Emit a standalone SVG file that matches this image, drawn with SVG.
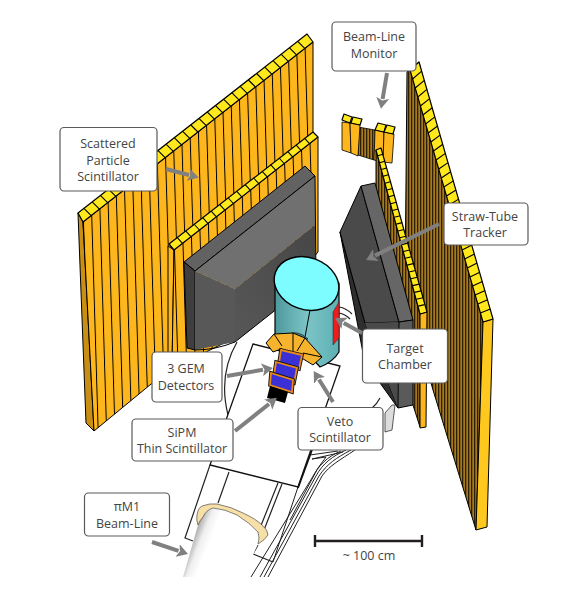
<svg xmlns="http://www.w3.org/2000/svg" width="572" height="608" viewBox="0 0 572 608">
<style>
.lab{fill:#fff;stroke:#5a5a5a;stroke-width:1.2}
text{font-family:"Open Sans","Noto Sans","Liberation Sans",sans-serif;font-size:12.500px;fill:#444;text-anchor:middle}
.ln{fill:none;stroke:#000;stroke-width:1}
.tile{fill:#ffe81c;stroke:#000;stroke-width:1.2;stroke-linejoin:round}
.face{fill:#fdb71c;stroke:#000;stroke-width:.8}
.div{fill:none;stroke:#000;stroke-width:1.1}
.gemo{fill:none;stroke:#111;stroke-width:3.6;stroke-linejoin:miter}
.gem{fill:#3b2fd6;stroke:#e8891a;stroke-width:1.8}
.flr{fill:none;stroke:#222;stroke-width:1.2}
.arr{fill:none;stroke:#808080;stroke-width:4;marker-end:url(#ah)}
</style>
<defs>
<marker id="ah" markerUnits="userSpaceOnUse" markerWidth="16" markerHeight="16" refX="1" refY="8" orient="auto" viewBox="0 0 16 16"><path d="M0,1.5L11,8L0,14.5L2.5,8Z" fill="#808080"/></marker>
<pattern id="st1" patternUnits="userSpaceOnUse" width="8.400" height="10" patternTransform="translate(76.340 0) skewX(1.720)"><rect width="8.400" height="10" fill="#fdb71c"/><rect width="1" height="10" fill="#000"/></pattern>
<pattern id="st2" patternUnits="userSpaceOnUse" width="8.670" height="10" patternTransform="translate(166.500 0) skewX(1.720)"><rect width="8.670" height="10" fill="#fdb71c"/><rect width="1" height="10" fill="#000"/></pattern>
<pattern id="st3" patternUnits="userSpaceOnUse" width="3" height="10"><rect width="3" height="10" fill="#a67a1c"/><rect width="1.300" height="10" fill="#2d1f08"/></pattern>
<linearGradient id="cyl" x1="0" x2="1" y1="0" y2="0"><stop offset="0" stop-color="#4e989c"/><stop offset=".5" stop-color="#7cc4c6"/><stop offset="1" stop-color="#5cb0b4"/></linearGradient>
<linearGradient id="pipe" gradientUnits="userSpaceOnUse" x1="186" y1="545" x2="214" y2="556"><stop offset="0" stop-color="#8c8c8c"/><stop offset=".4" stop-color="#efefef"/><stop offset=".7" stop-color="#fff"/></linearGradient>
<linearGradient id="boxd" gradientUnits="userSpaceOnUse" x1="235" y1="320" x2="315" y2="250"><stop offset="0" stop-color="#565656"/><stop offset="1" stop-color="#484848"/></linearGradient>
</defs>
<rect width="572" height="608" fill="#fff"/>

<g id="scattered-particle-scintillator">
<polygon points="78,213 83,222 94,431 86,423" fill="#c98f14" stroke="#000"/>
<polygon points="83,222 313,42 313,140 190,352 94,431" fill="url(#st1)" stroke="#000"/>
<polygon class="tile" points="78,213 307,34 313,42 83,222"/>
<path class="div" d="M91.2,215.6l-7,-7M99.4,209.1l-7,-7M107.6,202.7l-7,-7M115.8,196.3l-7,-7M124.1,189.9l-7,-7M132.3,183.4l-7,-7M140.5,177l-7,-7M148.7,170.6l-7,-7M156.9,164.1l-7,-7M165.1,157.7l-7,-7M173.3,151.3l-7,-7M181.5,144.8l-7,-7M189.7,138.4l-7,-7M197.9,132l-7,-7M206.2,125.6l-7,-7M214.4,119.1l-7,-7M222.6,112.7l-7,-7M230.8,106.3l-7,-7M239,99.8l-7,-7M247.2,93.4l-7,-7M255.4,87l-7,-7M263.6,80.5l-7,-7M271.8,74.1l-7,-7M280,67.7l-7,-7M288.3,61.3l-7,-7M296.5,54.8l-7,-7M304.7,48.4l-7,-7"/>
<polygon points="168,246 174,250 172,368 168,368" fill="#fdb71c" stroke="#000"/>
<polygon points="174,250 318,137 318,252 250,330 190,360 172,368" fill="url(#st2)" stroke="#000"/>
<polygon class="tile" points="169,244 313,132 318,137 174,250"/>
<path class="div" d="M182.5,243.4l-5,-5.5M190.9,236.7l-5,-5.5M199.4,230l-5,-5.5M207.9,223.4l-5,-5.5M216.4,216.8l-5,-5.5M224.8,210.1l-5,-5.5M233.3,203.5l-5,-5.5M241.8,196.8l-5,-5.5M250.2,190.2l-5,-5.5M258.7,183.5l-5,-5.5M267.2,176.9l-5,-5.5M275.6,170.2l-5,-5.5M284.1,163.5l-5,-5.5M292.6,156.9l-5,-5.5M301,150.3l-5,-5.5M309.5,143.6l-5,-5.5"/>
</g>

<g id="far-right-panel">
<polygon points="407,72 419,62 483,322 476,530 433,390 405,290" fill="url(#st3)" stroke="#000"/>
<polygon points="483,322 493,319 487,527 476,530" fill="#ffc81e" stroke="#000"/>
<polygon class="tile" points="410,70 419,62 493,319 483,322"/>
<path class="div" d="M412.6,79l9,-7.9M415.2,88l9.1,-7.7M417.8,97l9.1,-7.6M420.4,106l9.2,-7.4M423,115l9.2,-7.3M425.6,124l9.3,-7.1M428.2,133l9.3,-7M430.9,142l9.2,-6.9M433.5,151l9.3,-6.7M436.1,160l9.3,-6.6M438.7,169l9.4,-6.4M441.3,178l9.4,-6.3M443.9,187l9.5,-6.1M446.5,196l9.5,-6M449.1,205l9.5,-5.9M451.7,214l9.6,-5.7M454.3,223l9.6,-5.6M456.9,232l9.7,-5.4M459.5,241l9.7,-5.3M462.1,250l9.8,-5.1M464.7,259l9.8,-5M467.3,268l9.8,-4.9M470,277l9.8,-4.7M472.6,286l9.8,-4.6M475.2,295l9.9,-4.4M477.8,304l9.9,-4.3M480.4,313l10,-4.1"/>
</g>

<g id="beam-line-monitor-detector">
<polygon points="358,127 375,130 374,160 358,155" fill="url(#st3)" stroke="#000" stroke-width=".8"/>
<polygon class="face" points="342,122 350,123 351,153 342,150"/>
<polygon class="face" points="350,123 360,125 358,156 351,153"/>
<polygon class="face" points="375,130 384,132 383,162 374,160"/>
<polygon class="face" points="384,132 394,134 392,163 383,162"/>
<polygon class="tile" points="344,114 352,117 350,123 342,120"/>
<polygon class="tile" points="353,117 362,119 360,125 351,123"/>
<polygon class="tile" points="378,123 386,125 384,132 375,130"/>
<polygon class="tile" points="387,125 395,127 393,134 384,132"/>
</g>

<g id="middle-right-panel">
<polygon points="376,150 420,314 420,427 413,405 376,300" fill="url(#st3)" stroke="#000"/>
<polygon points="420,314 427,312 426,427 420,428" fill="#fdb71c" stroke="#000"/>
<polygon class="tile" points="376,150 381,148 427,312 420,314"/>
<path class="div" d="M377.8,155.8l5,-1.5M379.7,162.7l5,-1.5M381.5,169.5l5,-1.5M383.3,176.3l5,-1.5M385.2,183.2l5,-1.5M387,190l5.500,-1.500M388.8,196.8l5.500,-1.500M390.7,203.7l5.500,-1.500M392.500,210.500l5.500,-1.500M394.3,217.3l6,-1.5M396.2,224.1l6,-1.5M398,231l6,-1.5M399.8,237.8l6,-1.5M401.7,244.6l6,-1.5M403.5,251.5l6,-1.5M405.3,258.3l6,-1.5M407.2,265.1l6,-1.5M409,272l6.500,-1.500M410.8,278.8l6.500,-1.500M412.7,285.6l6.500,-1.500M414.5,292.4l6.500,-1.500M416.3,299.3l6.500,-1.500M418.2,306.1l6.500,-1.500"/>
</g>

<g id="floor">
<path class="flr" d="M237,342Q218,375 228,415M380,398Q377,404 372,408M339,307Q346,308 352,314M339,313Q345,314 350,319"/>
<polygon points="253,344 340,366 298,487 210,465" fill="#fff" stroke="#111" stroke-width="1.300"/>
<path class="flr" d="M210,465L185,538L193,541M229,472L218,503M282,484L262,535M278,483L258,533M258,545L253,554L273,562"/>
<path fill="none" stroke="#222" stroke-width="1" d="M355,450C340,460 330,465 322,476L268,577M351,450C336,458 327,464 319,476L264,577M346,450C333,456 323,463 316,476L260,577M341,451C328,456 318,466 312,478L251,577M298,487L273,562M310,455L338,451M312,459L343,452M326,457L318,468L290,520M312,459L326,457"/>
<path fill="none" stroke="#111" stroke-width="1.700" d="M312,450L298,488"/>
<polygon points="392,405 385,413 385,432 392,430 395,405" fill="#dcdcdc" stroke="#333" stroke-width=".8"/>
</g>

<g id="left-box">
<polygon points="184,262 305,166 315,176 195,271" fill="#626262" stroke="#000"/>
<polygon points="184,262 195,271 195,350 187,348" fill="#3e3e3e" stroke="#000"/>
<polygon points="195,271 235,289 235,342 195,350" fill="#585858"/>
<polygon points="195,271 315,176 315,225 235,289" fill="#707070"/>
<polygon points="235,289 315,225 316,278 235,342" fill="url(#boxd)"/>
<path class="ln" d="M195,271L315,176L316,278L235,342Q215,350 195,350"/>
</g>

<g id="straw-tube-tracker">
<polygon points="340,232 365,323 398,408 380,383 363,353" fill="#2e2e2e" stroke="#000"/>
<polygon points="361,186 399,322 365,323 340,232" fill="#4a4a4a" stroke="#000"/>
<polygon points="361,186 375,183 413,320 399,322" fill="#666" stroke="#000"/>
<polygon points="365,323 399,322 398,408" fill="#4a4a4a"/>
<polygon points="399,322 413,320 413,405 398,408" fill="#5a5a5a" stroke="#000"/>
</g>

<g id="target-chamber">
<path d="M275,283V338L300,345L320,367Q333,362 339,352V283Z" fill="url(#cyl)" stroke="#000" stroke-width="1.200"/>
<polygon points="333,312 339,302 339,338 333,345" fill="#ee1c1c" stroke="#333" stroke-width=".6"/>
<path class="ln" d="M310,310L305,337"/>
<ellipse cx="306.500" cy="283.500" rx="33" ry="26" transform="rotate(20 306.500 283.500)" fill="#7dfdff" stroke="#000" stroke-width="1.400"/>
</g>

<g id="gem-detectors">
<path d="M289,334Q298,330 308,339L300,340Z" fill="#4e989c" stroke="#222" stroke-width=".8"/>
<polygon points="266,343 274,334 293,333 305,338 322,357 313,365 300,357 281,349 273,352" fill="#f5b32e" stroke="#000" stroke-width="1"/>
<path class="ln" d="M274,334L282,346M293,333V351M305,338L297,351M322,357L303,353"/>
<polygon class="gemo" points="281,350 302,355 299,369 279,363"/><polygon class="gem" points="281,350 302,355 299,369 279,363"/>
<polygon class="gemo" points="276,362 297,368 294,383 274,375"/><polygon class="gem" points="276,362 297,368 294,383 274,375"/>
<polygon class="gemo" points="271,373 293,380 292,392 270,385"/><polygon class="gem" points="271,373 293,380 292,392 270,385"/>
<polygon points="270,386 288,392 285,403 267,398" fill="#000"/>
</g>

<g id="pim1-pipe">
<path d="M198,525Q203,512 213,508Q237,515 258,532Q260,538 258,544L243,577H183Z" fill="url(#pipe)"/>
<path d="M197,515Q198,508 202,506Q210,503 217,504Q232,507 243,513Q256,519 262,525Q268,530 268,535Q265,540 258,544Q260,538 258,532Q250,523 237,515Q225,509 213,508Q206,510 203,517Q200,520 198,525Q196,520 197,515Z" fill="#f7dfa8" stroke="#333" stroke-width=".6"/>
</g>

<g id="connectors">
<path class="arr" d="M166,169L189,175"/>
<path class="arr" d="M387,73L382.600,99"/>
<path class="arr" d="M439,224L375,255.600"/>
<path class="arr" d="M362,333L343.700,322.900"/>
<path class="arr" d="M227,376L263,369.700"/>
<path class="arr" d="M235,431L269,404"/>
<path class="arr" d="M333,402L319,379.500"/>
<path class="arr" d="M152,542L178.500,550.800"/>
</g>

<g id="label-scattered"><rect class="lab" x="60" y="127.500" width="97" height="63.500" rx="4"/><text x="108" y="148">Scattered</text><text x="108" y="165">Particle</text><text x="108" y="181">Scintillator</text></g>
<g id="label-monitor"><rect class="lab" x="332" y="22" width="84" height="49" rx="4"/><text x="374" y="41">Beam-Line</text><text x="374" y="58">Monitor</text></g>
<g id="label-straw"><rect class="lab" x="444" y="203" width="84" height="42" rx="4"/><text x="485" y="221">Straw-Tube</text><text x="485" y="237">Tracker</text></g>
<g id="label-target"><rect class="lab" x="362.500" y="329" width="85" height="54" rx="4"/><text x="405" y="353">Target</text><text x="405" y="369">Chamber</text></g>
<g id="label-gem"><rect class="lab" x="152" y="352" width="70" height="50" rx="4"/><text x="186" y="373">3 GEM</text><text x="186" y="390">Detectors</text></g>
<g id="label-sipm"><rect class="lab" x="132" y="419" width="101" height="42" rx="4"/><text x="182" y="437">SiPM</text><text x="182" y="453">Thin Scintillator</text></g>
<g id="label-veto"><rect class="lab" x="298" y="407.500" width="85" height="42.500" rx="4"/><text x="340" y="426">Veto</text><text x="340" y="442">Scintillator</text></g>
<g id="label-pim1"><rect class="lab" x="84.500" y="493" width="85" height="43" rx="4"/><text x="127" y="511">πM1</text><text x="127" y="528">Beam-Line</text></g>
<g id="scale"><path d="M315,541H422M315,535V547M422,535V547" fill="none" stroke="#231f20" stroke-width="2.400"/><text x="369" y="560">~ 100 cm</text></g>
</svg>
